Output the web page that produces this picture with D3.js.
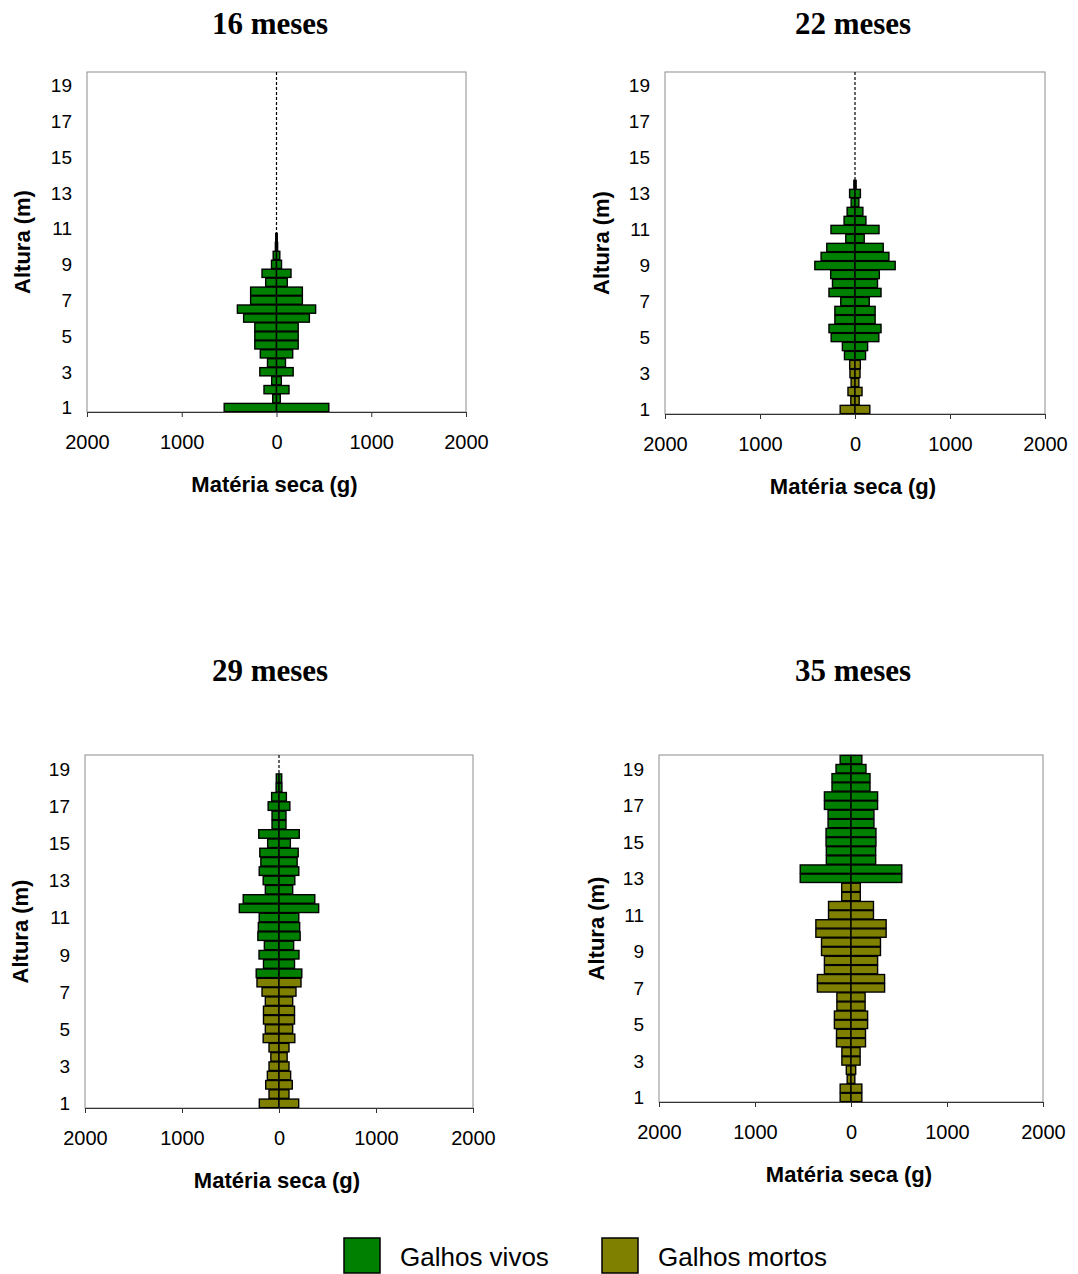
<!DOCTYPE html>
<html>
<head>
<meta charset="utf-8">
<script src="https://cdn.jsdelivr.net/npm/d3@7"></script>
<style>
  body { margin: 0; background: #fff; }
  svg { display: block; }
</style>
</head>
<body>
<svg id="chart" width="1078" height="1274"></svg>
<script>
// classes de altura (m), de 0.5 em 0.5
const alturas = [1, 1.5, 2, 2.5, 3, 3.5, 4, 4.5, 5, 5.5, 6, 6.5, 7, 7.5, 8, 8.5, 9, 9.5, 10, 10.5,
                 11, 11.5, 12, 12.5, 13, 13.5, 14, 14.5, 15, 15.5, 16, 16.5, 17, 17.5, 18, 18.5, 19, 19.5];
const alturaTicks = [1, 3, 5, 7, 9, 11, 13, 15, 17, 19];
const massaTicks = [-2000, -1000, 0, 1000, 2000];
const titulos = ["16 meses", "22 meses", "29 meses", "35 meses"];
const legenda = ["Galhos vivos", "Galhos mortos"];

// matéria seca (g) por classe de altura
const vivos16 = [552, 40, 132, 51, 176, 95, 171, 229, 229, 229, 347, 413, 273, 273, 114, 153, 53, 35, 12, 8,
                 0, 0, 0, 0, 0, 0, 0, 0, 0, 0, 0, 0, 0, 0, 0, 0, 0, 0];
const mortos16 = [0, 0, 0, 0, 0, 0, 0, 0, 0, 0, 0, 0, 0, 0, 0, 0, 0, 0, 0, 0,
                  0, 0, 0, 0, 0, 0, 0, 0, 0, 0, 0, 0, 0, 0, 0, 0, 0, 0];

const vivos22 = [0, 0, 0, 0, 0, 0, 111, 133, 251, 274, 212, 212, 150, 274, 237, 256, 423, 357, 297, 97,
                 253, 115, 83, 41, 57, 12, 0, 0, 0, 0, 0, 0, 0, 0, 0, 0, 0, 0];
const mortos22 = [156, 44, 74, 41, 53, 56, 0, 0, 0, 0, 0, 0, 0, 0, 0, 0, 0, 0, 0, 0,
                  0, 0, 0, 0, 0, 0, 0, 0, 0, 0, 0, 0, 0, 0, 0, 0, 0, 0];

const vivos29 = [0, 0, 0, 0, 0, 0, 0, 0, 0, 0, 0, 0, 0, 0, 235, 160, 206, 151, 218, 213,
                 204, 409, 369, 141, 163, 204, 187, 198, 117, 209, 72, 72, 112, 76, 30, 28, 0, 0];
const mortos29 = [203, 103, 137, 120, 103, 84, 103, 163, 141, 160, 160, 141, 175, 227, 0, 0, 0, 0, 0, 0,
                  0, 0, 0, 0, 0, 0, 0, 0, 0, 0, 0, 0, 0, 0, 0, 0, 0, 0];

const vivos35 = [0, 0, 0, 0, 0, 0, 0, 0, 0, 0, 0, 0, 0, 0, 0, 0, 0, 0, 0, 0,
                 0, 0, 0, 0, 529, 529, 257, 257, 260, 260, 239, 239, 277, 277, 198, 198, 156, 113];
const mortos35 = [113, 113, 40, 49, 95, 95, 151, 151, 173, 173, 147, 147, 350, 350, 277, 277, 307, 307, 366, 366,
                  234, 234, 97, 97, 0, 0, 0, 0, 0, 0, 0, 0, 0, 0, 0, 0, 0, 0];

const corVivos = "#008000";
const corMortos = "#808000";
const fonte = "'Liberation Sans', Arial, sans-serif";

var paineis = [
    {titulo: titulos[0], vivos: vivos16, mortos: mortos16, left: 87,  right: 466,  top: 72,  bottom: 412,  cx: 270, ty: 34,  yLabX: 22},
    {titulo: titulos[1], vivos: vivos22, mortos: mortos22, left: 665, right: 1045, top: 72,  bottom: 414,  cx: 853, ty: 34,  yLabX: 601},
    {titulo: titulos[2], vivos: vivos29, mortos: mortos29, left: 85,  right: 473,  top: 755, bottom: 1108, cx: 270, ty: 681, yLabX: 20},
    {titulo: titulos[3], vivos: vivos35, mortos: mortos35, left: 659, right: 1043, top: 755, bottom: 1102, cx: 853, ty: 681, yLabX: 596}
];

var svg = d3.select("#chart");

paineis.forEach(drawPanel);

function drawPanel(p) {
    var x = d3.scaleLinear()
                .domain([-2000, 2000])
                .range([p.left, p.right]);

    var y = d3.scaleBand()
                .domain(alturas)
                .range([p.bottom, p.top])
                .paddingInner(0.08)
                .paddingOuter(0.04);

    var g = svg.append("g");

    // titulo
    g.append("text")
        .attr("x", p.cx)
        .attr("y", p.ty)
        .attr("text-anchor", "middle")
        .attr("font-family", "'Liberation Serif', 'Times New Roman', serif")
        .attr("font-weight", "bold")
        .attr("font-size", 31)
        .text(p.titulo);

    // borda da area do grafico
    g.append("rect")
        .attr("x", p.left)
        .attr("y", p.top)
        .attr("width", p.right - p.left)
        .attr("height", p.bottom - p.top)
        .attr("fill", "none")
        .attr("stroke", "#8c8c8c")
        .attr("stroke-width", 1);

    // linha central tracejada
    g.append("line")
        .attr("x1", x(0)).attr("x2", x(0))
        .attr("y1", p.top).attr("y2", p.bottom)
        .attr("stroke", "#000")
        .attr("stroke-width", 1.2)
        .attr("stroke-dasharray", "3,2");

    // barras simetricas: mortos por dentro, vivos por fora
    var linhas = alturas.map(function(h, i) {
        return {h: h, m: p.mortos[i], v: p.vivos[i]};
    });

    var segs = [];
    linhas.forEach(function(d) {
        if (d.m > 0) {
            segs.push({h: d.h, x0: -d.m, x1: 0, cor: corMortos});
            segs.push({h: d.h, x0: 0, x1: d.m, cor: corMortos});
        }
        if (d.v > 0) {
            segs.push({h: d.h, x0: -(d.m + d.v), x1: -d.m, cor: corVivos});
            segs.push({h: d.h, x0: d.m, x1: d.m + d.v, cor: corVivos});
        }
    });

    g.selectAll(".bar")
        .data(segs)
        .enter().append("rect")
        .attr("class", "bar")
        .attr("x", function(d) { return x(d.x0); })
        .attr("y", function(d) { return y(d.h); })
        .attr("width", function(d) { return x(d.x1) - x(d.x0); })
        .attr("height", y.bandwidth())
        .attr("fill", function(d) { return d.cor; })
        .attr("stroke", "#000")
        .attr("stroke-width", 1.4);

    // eixo x
    var ax = g.append("g")
        .attr("transform", "translate(0," + p.bottom + ")")
        .call(d3.axisBottom(x)
            .tickValues(massaTicks)
            .tickFormat(function(d) { return Math.abs(d); })
            .tickSize(5)
            .tickSizeOuter(0)
            .tickPadding(18));
    ax.select(".domain").attr("stroke", "#333");
    ax.selectAll(".tick line").attr("stroke", "#333");
    ax.selectAll("text")
        .attr("font-family", fonte)
        .attr("font-size", 20)
        .attr("fill", "#000");

    // rotulos do eixo y
    g.selectAll(".ytick")
        .data(alturaTicks)
        .enter().append("text")
        .attr("class", "ytick")
        .attr("x", p.left - 15)
        .attr("y", function(d) { return y(d) + y.bandwidth() / 2; })
        .attr("dy", "0.36em")
        .attr("text-anchor", "end")
        .attr("font-family", fonte)
        .attr("font-size", 19)
        .text(function(d) { return d; });

    // titulos dos eixos
    g.append("text")
        .attr("x", x(0) - 2)
        .attr("y", p.bottom + 80)
        .attr("text-anchor", "middle")
        .attr("font-family", fonte)
        .attr("font-weight", "bold")
        .attr("font-size", 22)
        .text("Matéria seca (g)");

    g.append("text")
        .attr("transform", "translate(" + (p.yLabX + 8) + "," + ((p.top + p.bottom) / 2) + ") rotate(-90)")
        .attr("text-anchor", "middle")
        .attr("font-family", fonte)
        .attr("font-weight", "bold")
        .attr("font-size", 22)
        .text("Altura (m)");
}

// legenda
var leg = svg.append("g");
var legX = [344, 602];
[corVivos, corMortos].forEach(function(c, i) {
    leg.append("rect")
        .attr("x", legX[i])
        .attr("y", 1238)
        .attr("width", 36)
        .attr("height", 35)
        .attr("fill", c)
        .attr("stroke", "#000")
        .attr("stroke-width", 1.5);
    leg.append("text")
        .attr("x", legX[i] + 56)
        .attr("y", 1266)
        .attr("font-family", fonte)
        .attr("font-size", 26)
        .text(legenda[i]);
});
</script>
</body>
</html>
